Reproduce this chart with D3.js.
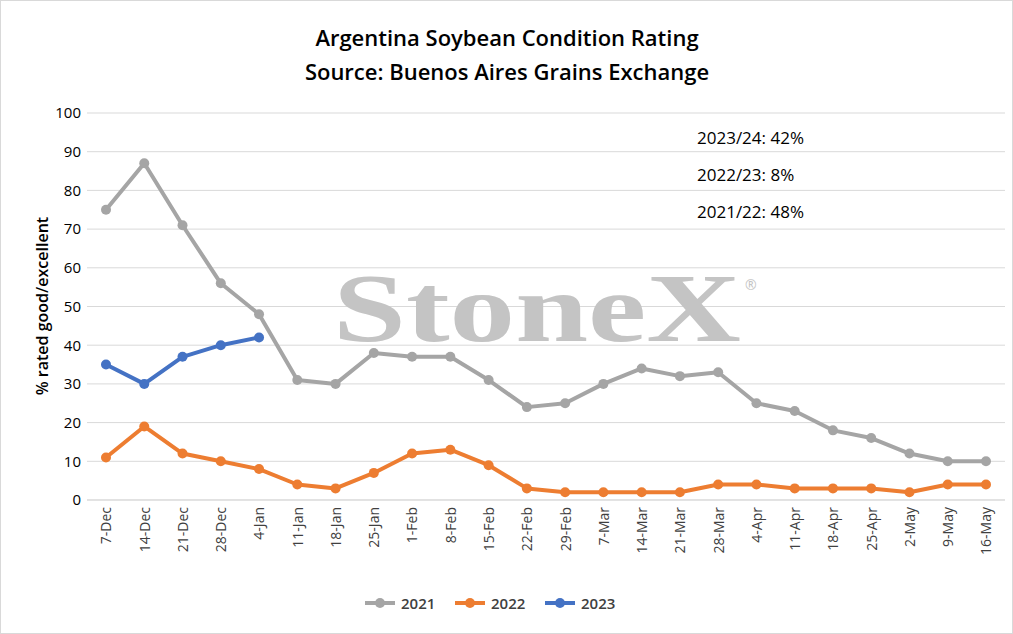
<!DOCTYPE html>
<html><head><meta charset="utf-8">
<script src="https://cdn.jsdelivr.net/npm/d3@7"></script>
<style>body{margin:0;background:#fff;font-family:"Open Sans",sans-serif;}</style>
</head><body>
<svg id="c" width="1013" height="634"></svg>
<script>
var weeks = ['7-Dec','14-Dec','21-Dec','28-Dec','4-Jan','11-Jan','18-Jan','25-Jan','1-Feb','8-Feb','15-Feb','22-Feb','29-Feb','7-Mar','14-Mar','21-Mar','28-Mar','4-Apr','11-Apr','18-Apr','25-Apr','2-May','9-May','16-May'];
var s2021 = [75,87,71,56,48,31,30,38,37,37,31,24,25,30,34,32,33,25,23,18,16,12,10,10];
var s2022 = [11,19,12,10,8,4,3,7,12,13,9,3,2,2,2,2,4,4,3,3,3,2,4,4];
var s2023 = [35,30,37,40,42];
var yTicks = [0,10,20,30,40,50,60,70,80,90,100];
var notes = ['2023/24: 42%','2022/23: 8%','2021/22: 48%'];

var F = '"Open Sans",sans-serif';
var svg = d3.select('#c');
svg.append('rect').attr('x',0.5).attr('y',0.5).attr('width',1012).attr('height',633).attr('fill','#fff').attr('stroke','#d9d9d9');

var x = d3.scalePoint().domain(weeks).range([106,986]);
var y = d3.scaleLinear().domain([0,100]).range([500,113]);

svg.selectAll('.grid').data(yTicks).enter().append('line')
  .attr('x1',87).attr('x2',1005).attr('y1',function(d){return y(d)}).attr('y2',function(d){return y(d)})
  .attr('stroke','#d9d9d9');

svg.append('text').attr('x',507).attr('y',46).attr('text-anchor','middle').attr('font-size',22).attr('font-weight','600').text('Argentina Soybean Condition Rating');
svg.append('text').attr('x',507).attr('y',80).attr('text-anchor','middle').attr('font-size',22).attr('font-weight','600').text('Source: Buenos Aires Grains Exchange');

svg.append('text').attr('x',333).attr('y',341).attr('font-family','"Liberation Serif",serif').attr('font-size',98).attr('font-weight','bold').attr('fill','#c4c4c4')
  .attr('textLength',408).attr('lengthAdjust','spacingAndGlyphs').text('StoneX');
svg.append('text').attr('x',745).attr('y',290).attr('font-size',14).attr('fill','#c4c4c4').text('®');

var ya = svg.append('g').attr('transform','translate(87,0)').call(d3.axisLeft(y).tickValues(yTicks).tickSize(0).tickPadding(6));
ya.select('.domain').remove();
ya.selectAll('text').attr('font-size',15).attr('font-family',F).attr('fill','#000');

var xa = svg.append('g').attr('transform','translate(0,500)').call(d3.axisBottom(x).tickSize(0).tickPadding(8));
xa.select('.domain').attr('stroke','#d9d9d9').attr('d','M87,0H1005');
xa.selectAll('text').attr('font-size',14).attr('font-family',F).attr('fill','#404040')
  .attr('text-anchor','end').attr('transform','rotate(-90)').attr('dx','-0.5em').attr('dy','0.35em').attr('x',0).attr('y',0);

svg.append('text').attr('transform','translate(48,306) rotate(-90)').attr('text-anchor','middle').attr('font-size',16).attr('font-weight','600').text('% rated good/excellent');

var series = [{name:'2021',v:s2021,c:'#a5a5a5'},{name:'2022',v:s2022,c:'#ed7d31'},{name:'2023',v:s2023,c:'#4472c4'}];
var line = d3.line().x(function(d,i){return x(weeks[i])}).y(function(d){return y(d)});
series.forEach(function(s){
  svg.append('path').datum(s.v).attr('d',line).attr('fill','none').attr('stroke',s.c).attr('stroke-width',4).attr('stroke-linejoin','round');
  svg.selectAll(null).data(s.v).enter().append('circle')
    .attr('cx',function(d,i){return x(weeks[i])}).attr('cy',function(d){return y(d)}).attr('r',5).attr('fill',s.c);
});

svg.selectAll('.note').data(notes).enter().append('text')
  .attr('x',697).attr('y',function(d,i){return 144+i*37}).attr('font-size',17).text(function(d){return d});

var lg = svg.selectAll('.lg').data(series).enter().append('g').attr('transform',function(d,i){return 'translate('+(365+i*90)+',603)'});
lg.append('line').attr('x1',0).attr('x2',30).attr('stroke',function(d){return d.c}).attr('stroke-width',4);
lg.append('circle').attr('cx',15).attr('r',5).attr('fill',function(d){return d.c});
lg.append('text').attr('x',36).attr('y',6).attr('font-size',15).attr('font-weight','600').attr('fill','#404040').text(function(d){return d.name});
</script>
</body></html>
